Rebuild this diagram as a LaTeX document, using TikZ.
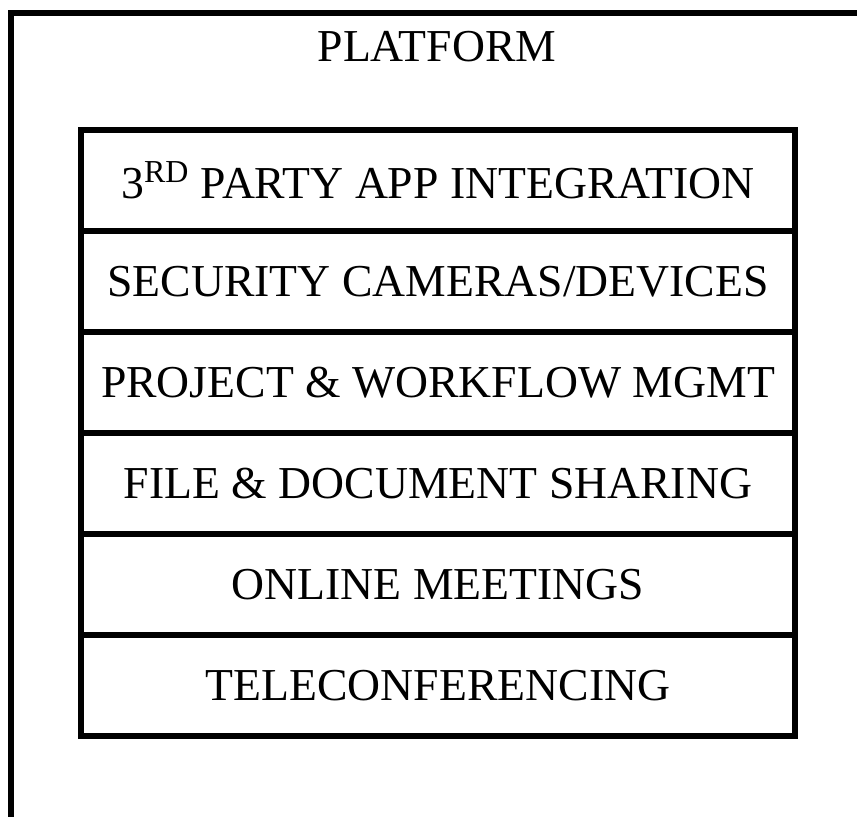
\documentclass[tikz,border=0pt]{standalone}
\usepackage{fontspec}
\setmainfont{Liberation Serif}
\usetikzlibrary{positioning}

\begin{document}
\begin{tikzpicture}[x=1cm,y=1cm,
        layer/.style={draw, line width=2.9pt, outer sep=0pt, inner sep=0pt,
            minimum width=14.28cm, minimum height=2.02cm,
            font=\fontsize{26}{31}\selectfont}]
                \useasboundingbox (0,0) rectangle (17.14,-16.34);

                % outer platform frame (runs off the right and bottom)
                \coordinate (P) at (0.22,-16.40);
                \coordinate (Q) at (0.22,-0.26);
                \coordinate (R) at (17.20,-0.26);
                \draw[line width=3.2pt] (P)--(Q)--(R);

                \node[font=\fontsize{26}{31}\selectfont] (platform) at (8.74,-0.93) {PLATFORM};

                % stacked layers
                \node[layer, anchor=north west] (app) at (1.62,-2.60) {3\textsuperscript{RD} PARTY APP INTEGRATION};
                \node[layer, below=0pt of app] (cam) {SECURITY CAMERAS/DEVICES};
                \node[layer, below=0pt of cam] (proj) {PROJECT \& WORKFLOW MGMT};
                \node[layer, below=0pt of proj] (file) {FILE \& DOCUMENT SHARING};
                \node[layer, below=0pt of file] (meet) {ONLINE MEETINGS};
                \node[layer, below=0pt of meet] (tele) {TELECONFERENCING};
             \end{tikzpicture}
\end{document}
